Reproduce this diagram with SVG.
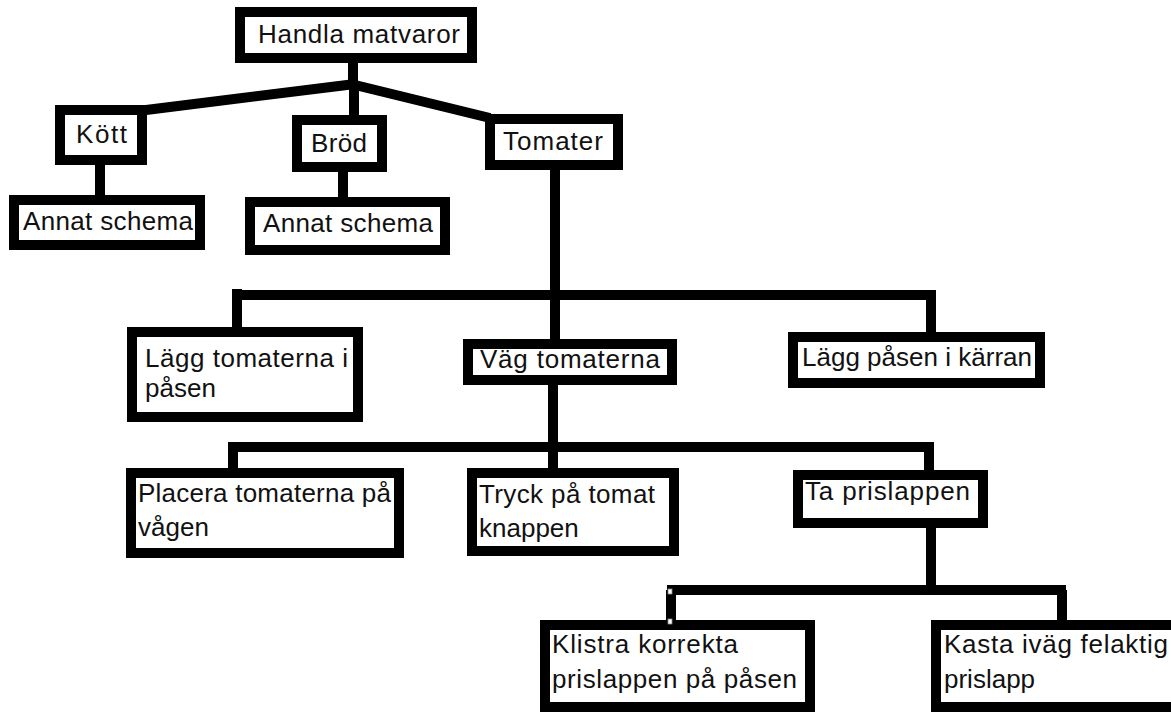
<svg xmlns="http://www.w3.org/2000/svg" width="1171" height="713" viewBox="0 0 1171 713">
  <style>
    .box { fill: #fff; stroke: #000; stroke-width: 10; }
    .wire { fill: none; stroke: #000; stroke-width: 10; stroke-linecap: butt; }
    .lbl { font-family: "Liberation Sans", Arial, sans-serif; font-size: 26px; fill: #111; }
    .handle { fill: #fff; stroke: #888; stroke-width: 0.8; }
  </style>
  <rect width="1171" height="713" fill="#fff"/>

  <!-- connectors -->
  <g id="connectors" class="wire">
    <polyline points="353,63 353,86"/>
    <polyline points="355,84 146,110"/>
    <polyline points="351,84 490,118"/>
    <polyline points="354,84 354,116"/>
    <polyline points="100,165 100,196"/>
    <polyline points="343,172 343,198"/>
    <polyline points="555,170 555,296"/>
    <polyline points="232,295 936,295"/>
    <polyline points="237,289 237,328"/>
    <polyline points="555,295 555,340"/>
    <polyline points="931,295 931,333"/>
    <polyline points="553,385 553,448"/>
    <polyline points="228,447 934,447"/>
    <polyline points="233,447 233,469"/>
    <polyline points="553,447 553,469"/>
    <polyline points="929,447 929,471"/>
    <polyline points="931,528 931,591"/>
    <polyline points="667,590 1066,590"/>
    <polyline points="671,590 671,621"/>
    <polyline points="1062,590 1062,621"/>
  </g>

  <g id="n-handla">
    <rect class="box" x="240" y="12" width="232" height="46"/>
    <text class="lbl" x="258" y="43" textLength="202" lengthAdjust="spacing">Handla matvaror</text>
  </g>
  <g id="n-kott">
    <rect class="box" x="60" y="110" width="82" height="50"/>
    <text class="lbl" x="76" y="143" textLength="51" lengthAdjust="spacing">Kött</text>
  </g>
  <g id="n-annat1">
    <rect class="box" x="14" y="200" width="186" height="45"/>
    <text class="lbl" x="23" y="230" textLength="170" lengthAdjust="spacing">Annat schema</text>
  </g>
  <g id="n-brod">
    <rect class="box" x="297" y="120" width="85" height="47"/>
    <text class="lbl" x="311" y="152" textLength="56" lengthAdjust="spacing">Bröd</text>
  </g>
  <g id="n-annat2">
    <rect class="box" x="250" y="202" width="195" height="48"/>
    <text class="lbl" x="263" y="232" textLength="170" lengthAdjust="spacing">Annat schema</text>
  </g>
  <g id="n-tomater">
    <rect class="box" x="490" y="119" width="128" height="46"/>
    <text class="lbl" x="503" y="150" textLength="100" lengthAdjust="spacing">Tomater</text>
  </g>
  <g id="n-lagg-tomater">
    <rect class="box" x="132" y="332" width="226" height="85"/>
    <text class="lbl" x="145" y="367" textLength="203" lengthAdjust="spacing">Lägg tomaterna i</text>
    <text class="lbl" x="145" y="397">påsen</text>
  </g>
  <g id="n-vag">
    <rect class="box" x="468" y="344" width="204" height="36"/>
    <text class="lbl" x="480" y="368" textLength="180" lengthAdjust="spacing">Väg tomaterna</text>
  </g>
  <g id="n-lagg-pasen">
    <rect class="box" x="793" y="337" width="247" height="46"/>
    <text class="lbl" x="802" y="366" textLength="230" lengthAdjust="spacing">Lägg påsen i kärran</text>
  </g>
  <g id="n-placera">
    <rect class="box" x="131" y="473" width="268" height="80"/>
    <text class="lbl" x="138" y="502" textLength="253" lengthAdjust="spacing">Placera tomaterna på</text>
    <text class="lbl" x="138" y="536">vågen</text>
  </g>
  <g id="n-tryck">
    <rect class="box" x="472" y="473" width="202" height="78"/>
    <text class="lbl" x="479" y="503" textLength="176" lengthAdjust="spacing">Tryck på tomat</text>
    <text class="lbl" x="479" y="537">knappen</text>
  </g>
  <g id="n-ta">
    <rect class="box" x="798" y="475" width="185" height="48"/>
    <text class="lbl" x="805" y="500" textLength="165" lengthAdjust="spacing">Ta prislappen</text>
  </g>
  <g id="n-klistra">
    <rect class="box" x="545" y="625" width="265" height="82"/>
    <text class="lbl" x="552" y="653" textLength="186" lengthAdjust="spacing">Klistra korrekta</text>
    <text class="lbl" x="552" y="688" textLength="245" lengthAdjust="spacing">prislappen på påsen</text>
  </g>
  <g id="n-kasta">
    <rect class="box" x="936" y="625" width="240" height="82"/>
    <text class="lbl" x="944" y="653" textLength="224" lengthAdjust="spacing">Kasta iväg felaktig</text>
    <text class="lbl" x="944" y="688">prislapp</text>
  </g>

  <!-- small selection handles left on the last connector -->
  <rect class="handle" x="668" y="589" width="4" height="5"/>
  <rect class="handle" x="668" y="619" width="4" height="5"/>
</svg>
